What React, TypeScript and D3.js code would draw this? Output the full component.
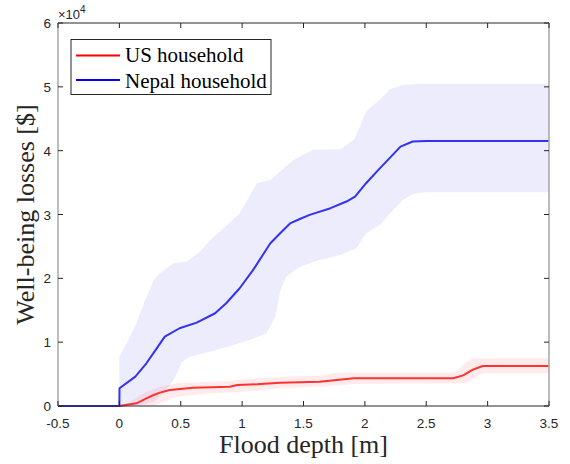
import React from "react";
import * as d3 from "d3";

const xTicks = [-0.5, 0, 0.5, 1, 1.5, 2, 2.5, 3, 3.5];
const yTicks = [0, 1, 2, 3, 4, 5, 6];
const seriesNames = ["US household", "Nepal household"];

const nepalMeanX = [-0.5, 0, 0.001, 0.13, 0.22, 0.3, 0.37, 0.49, 0.63, 0.78, 0.87, 0.98, 1.09, 1.23, 1.31, 1.39, 1.47, 1.55, 1.72, 1.85, 1.92, 2.01, 2.11, 2.19, 2.29, 2.39, 2.5, 3.5];
const nepalMeanY = [0, 0, 2770, 4600, 6690, 8900, 10860, 12180, 13060, 14530, 16100, 18450, 21320, 25500, 27070, 28600, 29300, 29940, 30990, 32030, 32810, 34900, 36990, 38600, 40640, 41430, 41500, 41500];

const nepalUpperX = [0, 0.06, 0.14, 0.21, 0.28, 0.33, 0.44, 0.55, 0.66, 0.74, 0.82, 0.98, 1.12, 1.23, 1.34, 1.42, 1.58, 1.8, 1.91, 1.96, 2.01, 2.12, 2.2, 2.3, 2.5, 3.5];
const nepalUpperY = [7730, 9830, 12960, 16610, 19750, 20800, 22370, 22620, 24190, 26020, 27320, 30200, 34900, 35420, 37250, 38560, 40130, 40230, 41690, 43780, 46130, 47960, 49600, 50300, 50500, 50500];

const nepalLowerX = [0, 0.1, 0.2, 0.28, 0.36, 0.44, 0.47, 0.51, 0.575, 0.79, 0.93, 1.06, 1.2, 1.27, 1.31, 1.36, 1.47, 1.63, 1.8, 1.93, 2.01, 2.12, 2.23, 2.31, 2.39, 2.5, 3.5];
const nepalLowerY = [0, 50, 250, 670, 2000, 4070, 5100, 6950, 7730, 8780, 9560, 10340, 11390, 14000, 18000, 20270, 21830, 22880, 23670, 24710, 27070, 28370, 30720, 32290, 33230, 33500, 33500];

const usMeanX = [-0.5, 0, 0.14, 0.22, 0.28, 0.33, 0.41, 0.6, 0.9, 0.96, 1.12, 1.31, 1.63, 1.91, 2.72, 2.8, 2.88, 2.96, 3.5];
const usMeanY = [0, 0, 420, 1200, 1720, 2090, 2510, 2870, 3030, 3290, 3400, 3660, 3810, 4340, 4340, 4800, 5700, 6270, 6270];

const usUpperX = [0, 0.09, 0.19, 0.33, 0.47, 0.9, 0.96, 1.31, 1.63, 1.74, 1.91, 2.74, 2.81, 2.88, 3.5];
const usUpperY = [0, 670, 2000, 3030, 3560, 3920, 4060, 4600, 4750, 5120, 5230, 5230, 6600, 7480, 7500];

const usLowerX = [0, 0.28, 0.36, 0.47, 0.74, 0.96, 1.31, 1.63, 1.91, 2.83, 2.9, 2.96, 3.5];
const usLowerY = [0, 0, 670, 1460, 2000, 2150, 2770, 3030, 3450, 3560, 4500, 5120, 5120];

const W = 570, H = 464;
const M = { left: 58, right: 549, top: 23, bottom: 406 };

export default function App() {
  const x = d3.scaleLinear().domain([-0.5, 3.5]).range([M.left, M.right]);
  const y = d3.scaleLinear().domain([0, 60000]).range([M.bottom, M.top]);

  const pts = (xs: number[], ys: number[]) => xs.map((v, i) => [v, ys[i]] as [number, number]);
  const lineLin = d3.line<[number, number]>().x(d => x(d[0])).y(d => y(d[1]));
  const band = (ux: number[], uy: number[], lx: number[], ly: number[]) => {
    const area = pts(ux, uy).concat(pts(lx, ly).reverse());
    return lineLin(area) + "Z";
  };

  const tickColor = "#262626";
  const font = "Liberation Sans, Arial, sans-serif";
  const serif = "Liberation Serif, Times New Roman, serif";

  return (
    <svg width={W} height={H} style={{ position: "absolute", left: 0, top: 0, background: "#fff" }}>
      <rect x={0} y={0} width={W} height={H} fill="#fff" />
      <path d={band(nepalUpperX, nepalUpperY, nepalLowerX, nepalLowerY)} fill="rgb(236,236,253)" />
      <path d={band(usUpperX, usUpperY, usLowerX, usLowerY)} fill="rgb(255,60,60)" fillOpacity={0.1} />
      <path d={lineLin(pts(usMeanX, usMeanY)) || ""} fill="none" stroke="rgb(255,50,50)" strokeWidth={2} strokeLinejoin="round" />
      <path d={lineLin(pts(nepalMeanX, nepalMeanY)) || ""} fill="none" stroke="rgb(50,50,245)" strokeWidth={2} strokeLinejoin="round" />

      {/* axes box */}
      <line x1={M.left} x2={M.right} y1={M.top} y2={M.top} stroke={tickColor} strokeWidth={1} />
      <line x1={M.left} x2={M.right} y1={M.bottom} y2={M.bottom} stroke={tickColor} strokeWidth={1} />
      <line x1={M.left} x2={M.left} y1={M.top} y2={M.bottom} stroke="#a6a6a6" strokeWidth={1.5} />
      <line x1={M.right} x2={M.right} y1={M.top} y2={M.bottom} stroke="#a6a6a6" strokeWidth={1.5} />

      {xTicks.map(t => (
        <g key={"x" + t}>
          <line x1={x(t)} x2={x(t)} y1={M.bottom} y2={M.bottom - 5} stroke={tickColor} />
          <line x1={x(t)} x2={x(t)} y1={M.top} y2={M.top + 5} stroke={tickColor} />
          <text x={x(t)} y={M.bottom + 22} textAnchor="middle" fontFamily={font} fontSize={13.5} fill={tickColor}>{t}</text>
        </g>
      ))}
      {yTicks.map(t => (
        <g key={"y" + t}>
          <line x1={M.left} x2={M.left + 5} y1={y(t * 10000)} y2={y(t * 10000)} stroke={tickColor} />
          <line x1={M.right} x2={M.right - 5} y1={y(t * 10000)} y2={y(t * 10000)} stroke={tickColor} />
          <text x={M.left - 7} y={y(t * 10000) + 5} textAnchor="end" fontFamily={font} fontSize={13.5} fill={tickColor}>{t}</text>
        </g>
      ))}
      <text x={58} y={19} fontFamily={font} fontSize={13} fill={tickColor}>
        ×10<tspan dy={-6} fontSize={10}>4</tspan>
      </text>

      <text x={(M.left + M.right) / 2} y={453} textAnchor="middle" fontFamily={serif} fontSize={26} fill={tickColor}>Flood depth [m]</text>
      <text transform={`translate(34,${(M.top + M.bottom) / 2}) rotate(-90)`} textAnchor="middle" fontFamily={serif} fontSize={26} fill={tickColor}>Well-being losses [$]</text>

      {/* legend */}
      <rect x={71} y={39.5} width={200} height={55} fill="#fff" stroke={tickColor} strokeWidth={1} />
      {seriesNames.map((n, i) => (
        <g key={n}>
          <line x1={76} x2={120} y1={55.5 + i * 24.5} y2={55.5 + i * 24.5} stroke={i === 0 ? "rgb(255,0,0)" : "rgb(0,0,255)"} strokeWidth={2} />
          <text x={125} y={62.3 + i * 26} fontFamily={serif} fontSize={21} fill="#000">{n}</text>
        </g>
      ))}
    </svg>
  );
}
